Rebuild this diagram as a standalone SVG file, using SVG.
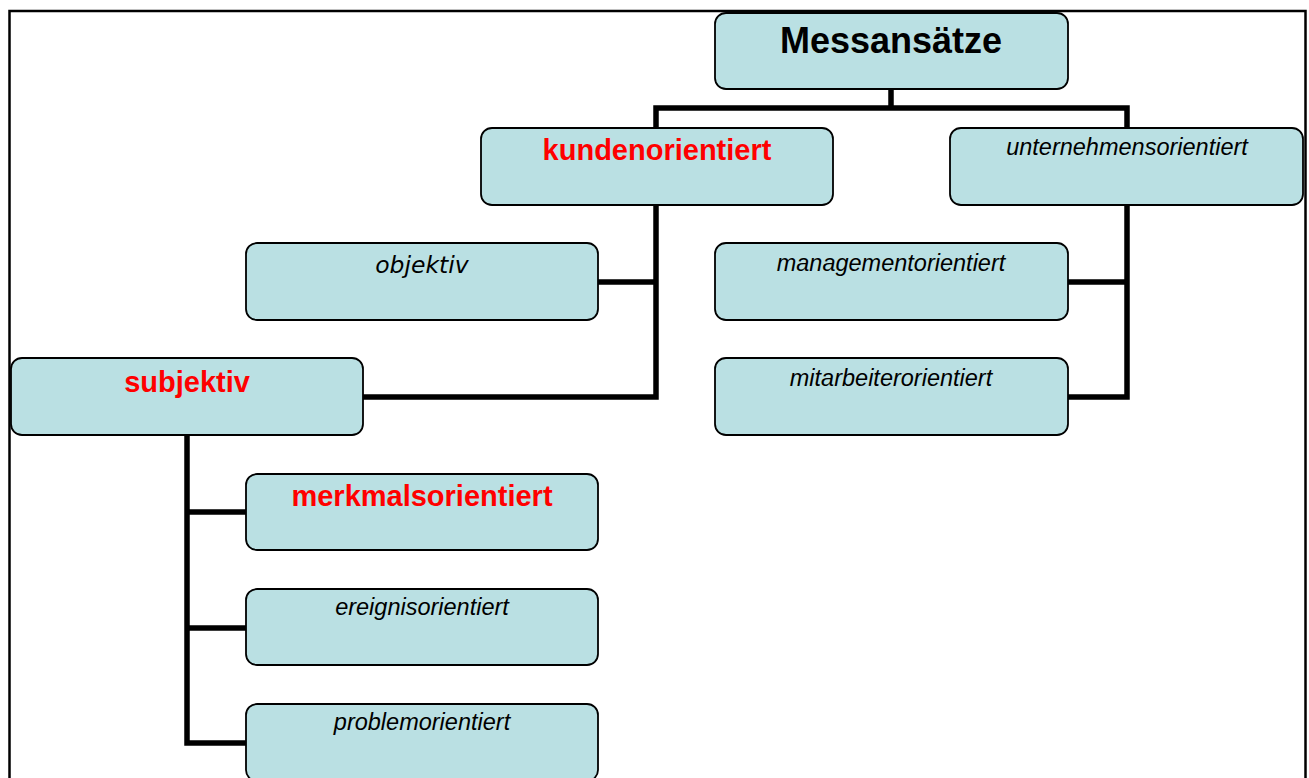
<svg xmlns="http://www.w3.org/2000/svg" width="1309" height="778" viewBox="0 0 1309 778">
<style>
.box{fill:#BAE0E3;stroke:#000;stroke-width:1.8}
.ln{fill:none;stroke:#000;stroke-width:5.5;stroke-linejoin:miter;stroke-linecap:square}
.t{font-family:"Liberation Sans",Arial,sans-serif;text-anchor:middle}
.red{fill:#FF0000;font-weight:bold;font-size:29px}
.it{fill:#000;font-style:italic;font-size:23.5px}
</style>
<rect x="9.5" y="11" width="1296" height="790" fill="#fff" stroke="#000" stroke-width="2.5"/>
<g id="connectors">
<path class="ln" d="M891 89 V108 M656 128 V108 H1127 V128"/>
<path class="ln" d="M656 205 V397 H363 M598 282 H656"/>
<path class="ln" d="M1127 205 V397 H1068 M1068 282 H1127"/>
<path class="ln" d="M187 435 V743 H246 M187 512 H246 M187 628 H246"/>
</g>
<g id="messansaetze">
<rect class="box" x="715" y="13" width="353" height="76" rx="11"/>
<text class="t" x="891" y="53" font-size="36" font-weight="bold">Messansätze</text>
</g>
<g id="kundenorientiert">
<rect class="box" x="481" y="128" width="352" height="77" rx="11"/>
<text class="t red" x="657" y="160">kundenorientiert</text>
</g>
<g id="unternehmensorientiert">
<rect class="box" x="950" y="128" width="353" height="77" rx="11"/>
<text class="t it" x="1127" y="155">unternehmensorientiert</text>
</g>
<g id="objektiv">
<rect class="box" x="246" y="243" width="352" height="77" rx="11"/>
<text x="422" y="273" font-family="DejaVu Sans,sans-serif" font-style="italic" font-size="23.5" text-anchor="middle">objektiv</text>
</g>
<g id="subjektiv">
<rect class="box" x="11" y="358" width="352" height="77" rx="11"/>
<text class="t red" x="187" y="392">subjektiv</text>
</g>
<g id="managementorientiert">
<rect class="box" x="715" y="243" width="353" height="77" rx="11"/>
<text class="t it" x="891" y="271">managementorientiert</text>
</g>
<g id="mitarbeiterorientiert">
<rect class="box" x="715" y="358" width="353" height="77" rx="11"/>
<text class="t it" x="891" y="386">mitarbeiterorientiert</text>
</g>
<g id="merkmalsorientiert">
<rect class="box" x="246" y="474" width="352" height="76" rx="11"/>
<text class="t red" x="422" y="506">merkmalsorientiert</text>
</g>
<g id="ereignisorientiert">
<rect class="box" x="246" y="589" width="352" height="76" rx="11"/>
<text class="t it" x="422" y="615">ereignisorientiert</text>
</g>
<g id="problemorientiert">
<rect class="box" x="246" y="704" width="352" height="77" rx="11"/>
<text class="t it" x="422" y="730">problemorientiert</text>
</g>
</svg>
